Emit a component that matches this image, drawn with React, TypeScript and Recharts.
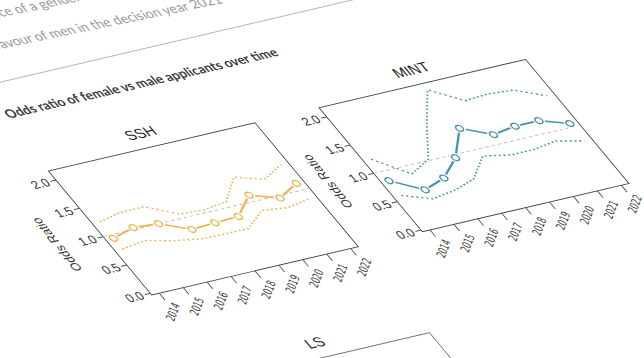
import React from 'react';
import { LineChart, Line, XAxis, YAxis, ReferenceLine, ReferenceArea } from 'recharts';

const YEARS = [2014, 2015, 2016, 2017, 2018, 2019, 2020, 2021, 2022];
const Y_TICKS = [0, 0.5, 1, 1.5, 2];

// odds ratios with 95% interval
const SSH_OR = [0.94, 1.03, 1.0, 0.8, 0.82, 0.83, 1.11, 0.96, 1.12];
const SSH_LOWER = [0.75, 0.8, 0.7, 0.63, 0.62, 0.62, 0.84, 0.79, 0.85];
const SSH_UPPER = [1.23, 1.3, 1.3, 1.07, 1.05, 1.09, 1.43, 1.29, 1.45];

const MINT_OR = [0.84, 0.58, 0.69, 0.95, 1.37, 1.16, 1.21, 1.21, 1.06];
const MINT_LOWER = [0.58, 0.42, 0.47, 0.57, 0.88, 0.8, 0.8, 0.85, 0.75];
const MINT_UPPER = [1.22, 0.86, 1.02, 1.56, 2.05, 1.76, 1.78, 1.75, 1.55];

const X_DOMAIN: [number, number] = [2013.68, 2022.32];
const Y_DOMAIN: [number, number] = [-0.03, 2.16];

const SSH_COLOR = '#efb454';
const MINT_COLOR = '#4b93ae';
const FONT = '"Liberation Sans", Arial, sans-serif';

// the page is photographed at an angle: flat page -> screen
const PAGE_TRANSFORM = 'matrix(0.6887, -0.161, 0.5165, 0.62, -220.2, -3.25)';

function buildRows(or: number[], lo: number[], hi: number[]) {
  return YEARS.map((year, i) => ({ year, or: or[i], lo: lo[i], hi: hi[i] }));
}

function YearTick(props: any) {
  const { x, y, payload } = props;
  return (
    <text
      x={x}
      y={y}
      transform={`translate(13,12) rotate(-40 ${x} ${y})`}
      textAnchor="end"
      fontSize={14}
      fill="#444"
      fontFamily='"Liberation Sans Narrow", "DejaVu Sans Condensed", sans-serif'
    >
      {payload.value}
    </text>
  );
}

const ringDot = (color: string) => (props: any) => {
  const { cx, cy, index } = props;
  if (cx == null || cy == null) return <g key={index} />;
  return (
    <g key={index}>
      <circle cx={cx} cy={cy} r={7.5} fill="#fff" />
      <circle cx={cx} cy={cy} r={4.6} fill="none" stroke={color} strokeWidth={2} />
    </g>
  );
};

function OddsPanel({ title, rows, color, left, top }: any) {
  return (
    <div style={{ position: 'absolute', left, top, width: 410, height: 310 }}>
      <div
        style={{
          position: 'absolute', left: 140, top: 6, width: 200, textAlign: 'center',
          fontSize: 20, fontFamily: FONT, color: '#222', lineHeight: '24px',
        }}
      >
        {title}
      </div>
      <div
        style={{
          position: 'absolute', left: 27, top: 142, transform: 'translate(-50%, -50%) rotate(-90deg)',
          fontSize: 17, fontFamily: FONT, color: '#333', whiteSpace: 'nowrap',
        }}
      >
        Odds Ratio
      </div>
      <LineChart width={410} height={310} data={rows} margin={{ top: 40, right: 20, bottom: 0, left: 0 }}>
        <XAxis
          dataKey="year"
          type="number"
          domain={X_DOMAIN}
          ticks={YEARS}
          interval={0}
          allowDataOverflow
          height={70}
          tickSize={11}
          tickMargin={0}
          axisLine={false}
          tickLine={{ stroke: '#444', strokeWidth: 1.3 }}
          tick={<YearTick />}
        />
        <YAxis
          type="number"
          domain={Y_DOMAIN}
          ticks={Y_TICKS}
          interval={0}
          allowDataOverflow
          width={90}
          tickSize={8}
          tickMargin={3}
          axisLine={false}
          tickLine={{ stroke: '#444', strokeWidth: 1.3 }}
          tickFormatter={(v: number) => v.toFixed(1)}
          tick={{ fontSize: 17, fill: '#333', fontFamily: FONT }}
        />
        <ReferenceArea
          x1={X_DOMAIN[0]}
          x2={X_DOMAIN[1]}
          y1={Y_DOMAIN[0]}
          y2={Y_DOMAIN[1]}
          fill="none"
          stroke="#444"
          strokeWidth={1.3}
          ifOverflow="visible"
        />
        <ReferenceLine y={1} stroke="#bdbdbd" strokeWidth={1.3} strokeDasharray="5 4" />
        <Line type="linear" dataKey="hi" stroke={color} strokeWidth={2.2} strokeDasharray="2.5 3.5" dot={false} isAnimationActive={false} />
        <Line type="linear" dataKey="lo" stroke={color} strokeWidth={2.2} strokeDasharray="2.5 3.5" dot={false} isAnimationActive={false} />
        <Line type="linear" dataKey="or" stroke={color} strokeWidth={2.6} dot={ringDot(color)} isAnimationActive={false} />
      </LineChart>
    </div>
  );
}

export default function App() {
  const sshRows = buildRows(SSH_OR, SSH_LOWER, SSH_UPPER);
  const mintRows = buildRows(MINT_OR, MINT_LOWER, MINT_UPPER);
  return (
    <div style={{ position: 'fixed', left: 0, top: 0, width: 644, height: 358, overflow: 'hidden', background: '#fff' }}>
      <div style={{ position: 'absolute', left: 0, top: 0, width: 1100, height: 900, transformOrigin: '0 0', transform: PAGE_TRANSFORM }}>
        <svg width={1100} height={900} style={{ position: 'absolute', left: 0, top: 0 }}>
          <g fontFamily="Lato, 'Open Sans', sans-serif">
            <text x={195} y={96} fontSize={18.5} fill="#9a9a9a" transform="rotate(1.5 195 96)">
              evidence of a gender bias in the outcome
            </text>
            <text x={212} y={140} fontSize={18.5} fill="#9a9a9a" transform="rotate(1.5 212 140)">
              favour of men in the decision year 2021
            </text>
            <line x1={-100} y1={185} x2={1100} y2={185} stroke="#b5b5b5" strokeWidth={1.3} />
            <text x={548} y={237} textAnchor="end" fontSize={18} fontWeight={700} fill="#3d3d3d">
              Odds ratio of female vs male applicants over time
            </text>
          </g>
        </svg>
        <OddsPanel title="SSH" rows={sshRows} color={SSH_COLOR} left={60} top={280} />
        <OddsPanel title="MINT" rows={mintRows} color={MINT_COLOR} left={453} top={280} />
        <div
          style={{
            position: 'absolute', left: 200, top: 624, width: 200, textAlign: 'center',
            fontSize: 20, fontFamily: FONT, color: '#222', lineHeight: '24px',
          }}
        >
          LS
        </div>
        <div style={{ position: 'absolute', left: 150, top: 658, width: 300, height: 200, border: '1.3px solid #555', boxSizing: 'border-box' }} />
      </div>
    </div>
  );
}
